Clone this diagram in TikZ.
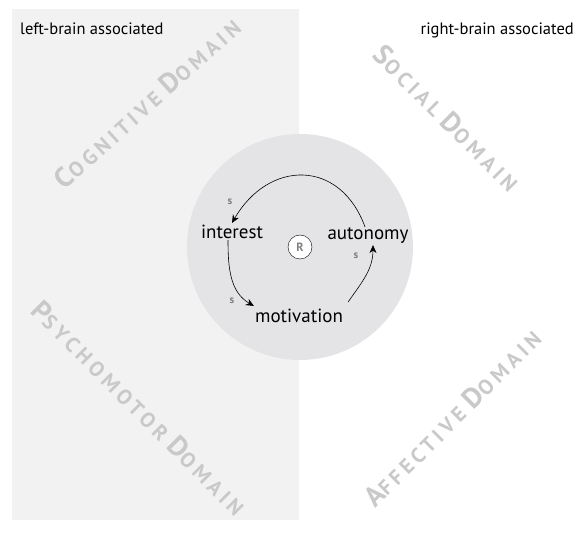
\documentclass[tikz,border=0pt]{standalone}
\usepackage{fontspec}
\setmainfont{PT Sans}
\newfontfamily\domfont[LetterSpace=20]{PT Sans}
\usetikzlibrary{arrows.meta}
\definecolor{panelgray}{HTML}{F2F2F2}
\definecolor{ringgray}{HTML}{E4E4E6}
\definecolor{domaingray}{HTML}{C9C9C9}
\definecolor{sgray}{HTML}{808080}
\newcommand{\domsc}[2]{{\fontsize{28}{28}\selectfont #1}{\fontsize{21}{21}\selectfont #2}}
\begin{document}
\begin{tikzpicture}[x=1pt, y=1pt,
		concept/.style={font=\fontsize{19}{19}\selectfont, inner sep=1pt},
		domaintext/.style={text=domaingray, font=\domfont\bfseries, inner sep=0pt},
		slabel/.style={text=sgray, font=\bfseries\fontsize{11}{11}\selectfont},
		cyc/.style={semithick, -{Stealth[length=8pt, width=7pt]}},
		side/.style={font=\fontsize{16.5}{16.5}\selectfont, inner sep=0pt}]
		\useasboundingbox (0,0) rectangle (574,533);
		\fill[panelgray] (12,13) rectangle (299,524);
		\fill[ringgray] (300,286) circle (113);

		\node[side, anchor=base west] (lb) at (20,498) {left-brain associated};
		\node[side, anchor=base east] (rb) at (574,498) {right-brain associated};

		\node[domaintext, rotate=42] (cog) at (147,430) {\domsc{C}{OGNITIVE}\hspace{8pt}\domsc{D}{OMAIN}};
		\node[domaintext, rotate=-45] (soc) at (447,415) {\domsc{S}{OCIAL}\hspace{8pt}\domsc{D}{OMAIN}};
		\node[domaintext, rotate=-45] (psy) at (139,125) {\domsc{P}{SYCHOMOTOR}\hspace{8pt}\domsc{D}{OMAIN}};
		\node[domaintext, rotate=45] (aff) at (452,115) {\domsc{A}{FFECTIVE}\hspace{8pt}\domsc{D}{OMAIN}};

		\node[concept] (int) at (232,301) {interest};
		\node[concept] (aut) at (368,297) {autonomy};
		\node[concept] (mot) at (299,217) {motivation};
		\node[draw, circle, fill=white, thin, minimum size=24pt, inner sep=0pt, text=sgray, font=\bfseries\fontsize{12}{12}\selectfont] (r) at (300,286) {R};

		\node[slabel] (s1) at (230,331) {s};
		\node[slabel] (s2) at (356,277) {s};
		\node[slabel] (s3) at (232,232) {s};

		\draw[cyc] ([xshift=-3pt]aut.north) to[out=110, in=60, looseness=1.4] ([yshift=1pt]int.north);
		\draw[cyc] ([xshift=-4pt]int.south) to[out=-90, in=150] ([yshift=2pt]mot.north west);
		\draw[cyc] ([xshift=4pt, yshift=6pt]mot.north east) to[out=55, in=-90] ([xshift=5pt]aut.south);

	\end{tikzpicture}
\end{document}
